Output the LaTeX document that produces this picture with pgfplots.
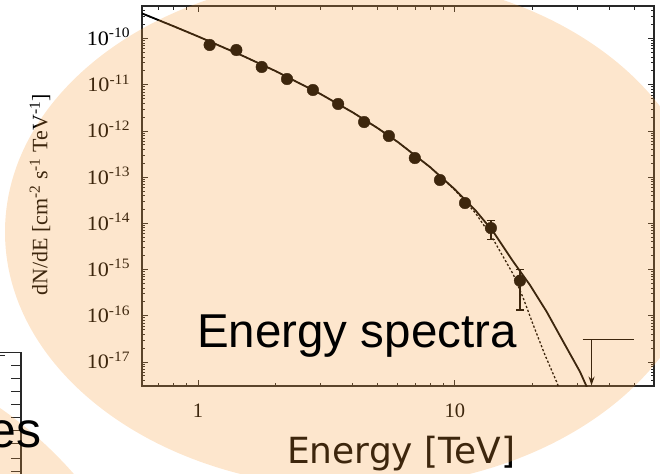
\documentclass[border=0pt]{standalone}
\usepackage{pgfplots}
\pgfplotsset{compat=1.18}
\usepackage{fontspec}
\setmainfont{Liberation Serif}
\newfontfamily\arialf{Liberation Sans}
\newfontfamily\dejavuf{DejaVu Sans}
\usetikzlibrary{arrows.meta}
\definecolor{ovl}{RGB}{247,155,55}
\definecolor{axc}{RGB}{40,40,40}

\begin{document}
\begin{tikzpicture}
\useasboundingbox (0,0) rectangle (660pt,-473pt);
\clip (0,0) rectangle (660pt,-473pt);
\begin{axis}[
  at={(142pt,-386pt)}, anchor=south west, scale only axis,
  width=512pt, height=380pt,
  xmode=log, ymode=log,
  xmin=0.6055, xmax=59.5, ymin=3.03e-18, ymax=5.1e-10,
  axis line style={line width=1.3pt, color=axc},
  tick style={line width=1pt, color=axc},
  tick align=inside, tick pos=both,
  xticklabel pos=left, yticklabel pos=left,
  major tick length=6pt, minor tick length=3.5pt,
  xtick={1,10}, xticklabels={1,10},
  minor xtick={0.7,0.8,0.9,2,3,4,5,6,7,8,9,20,30,40,50},
  ytick={1e-17,1e-16,1e-15,1e-14,1e-13,1e-12,1e-11,1e-10},
  yticklabels={10\textsuperscript{-17},10\textsuperscript{-16},10\textsuperscript{-15},10\textsuperscript{-14},10\textsuperscript{-13},10\textsuperscript{-12},10\textsuperscript{-11},10\textsuperscript{-10}},
  minor ytick={4e-18,5e-18,6e-18,7e-18,8e-18,9e-18,
    2e-17,3e-17,4e-17,5e-17,6e-17,7e-17,8e-17,9e-17,
    2e-16,3e-16,4e-16,5e-16,6e-16,7e-16,8e-16,9e-16,
    2e-15,3e-15,4e-15,5e-15,6e-15,7e-15,8e-15,9e-15,
    2e-14,3e-14,4e-14,5e-14,6e-14,7e-14,8e-14,9e-14,
    2e-13,3e-13,4e-13,5e-13,6e-13,7e-13,8e-13,9e-13,
    2e-12,3e-12,4e-12,5e-12,6e-12,7e-12,8e-12,9e-12,
    2e-11,3e-11,4e-11,5e-11,6e-11,7e-11,8e-11,9e-11,
    2e-10,3e-10,4e-10,5e-10},
  ticklabel style={font=\fontsize{20.5}{22}\selectfont, color=black},
  xticklabel style={anchor=base, yshift=-31pt},
  yticklabel style={anchor=base east, yshift=-6.8pt, xshift=-8pt, xscale=1.08},
]
% solid model curve
\addplot[black, line width=1.8pt] coordinates {
 (0.6,3.6e-10) (0.8,1.88e-10) (1.0,1.12e-10) (1.5,4.21e-11) (2,2.0e-11)
 (3,6.33e-12) (4,2.54e-12) (5,1.16e-12) (6,5.77e-13) (8,1.66e-13)
 (10,5.44e-14) (12,1.94e-14) (14.09,6.64e-15) (16.86,1.49e-15)
 (19.58,4.65e-16) (22.74,1.23e-16) (26.39,2.75e-17) (30.65,6.18e-18)
 (32.34,3.18e-18) (33.0,2.4e-18)};
% dotted model curve
\addplot[black, line width=1.3pt, dash pattern=on 2.2pt off 2pt] coordinates {
 (0.6,3.6e-10) (0.8,1.88e-10) (1.0,1.12e-10) (1.5,4.21e-11) (2,2.0e-11)
 (3,6.33e-12) (4,2.54e-12) (5,1.16e-12) (6,5.77e-13) (8,1.66e-13)
 (10,5.25e-14) (12,1.70e-14) (13.9,5.16e-15) (16.86,7.9e-16)
 (18.45,2.4e-16) (20.17,6.34e-17) (22.4,1.42e-17) (25.0,3.47e-18) (25.5,2.5e-18)};
% error bars
\addplot[draw=none, mark=none, forget plot,
  error bars/.cd, y dir=both, y explicit,
  error bar style={black, line width=1.2pt},
  error mark options={rotate=90, mark size=4pt, line width=1.2pt, black}]
  coordinates {(13.8,7.96e-15) +- (0,3.43e-15) (17.9,5.77e-16) +- (0,4.43e-16)};
% data points
\addplot[black, only marks, mark=*, mark size=5.8pt] coordinates {
 (1.11,7.31e-11) (1.41,5.69e-11) (1.77,2.44e-11) (2.22,1.34e-11)
 (2.80,7.75e-12) (3.51,3.86e-12) (4.43,1.57e-12) (5.53,7.83e-13)
 (6.98,2.61e-13) (8.74,8.73e-14) (10.94,2.77e-14) (13.8,7.96e-15)
 (17.9,5.77e-16)};
% upper limit
\addplot[black, line width=1.1pt] coordinates {(31.4,3.1e-17) (49.7,3.1e-17)};
\addplot[black, line width=1.1pt, -{Stealth[length=9pt,width=6pt]}] coordinates {(34,3.1e-17) (34,3.1e-18)};
\end{axis}
% y label
\node[rotate=90, font=\fontsize{22}{24}\selectfont, color=black] at (40pt,-195pt)
  {dN/dE [cm\textsuperscript{-2} s\textsuperscript{-1} TeV\textsuperscript{-1}]};
% x label (under overlay)
\node[anchor=base west, inner sep=0, font=\dejavuf\fontsize{36}{40}\selectfont, color=black] at (287pt,-463pt) {Energy [TeV]};
% partial neighbouring chart at the left
\draw[axc, line width=1.2pt] (0,-352.5pt) -- (21pt,-352.5pt) -- (21pt,-480pt);
\draw[axc, line width=1pt] (0,-355pt) -- (5pt,-355pt);
\foreach \yy in {365,378,391,404,417,430,443,458,471}
  \draw[axc, line width=1pt] (11pt,{-\yy*1pt}) -- (21pt,{-\yy*1pt});
% orange overlays
\fill[ovl, opacity=0.25] (355pt,-232pt) ellipse [x radius=350pt, y radius=256pt];
\fill[ovl, opacity=0.25] (-229.5pt,-739.3pt) circle [radius=403pt];
% texts on top
\node[anchor=base west, inner sep=0, font=\arialf\fontsize{47.5}{50}\selectfont] at (197pt,-347pt) {Energy spectra};
\node[anchor=base east, inner sep=0, font=\arialf\fontsize{50}{55}\selectfont] at (42pt,-447pt) {es};
\end{tikzpicture}
\end{document}
